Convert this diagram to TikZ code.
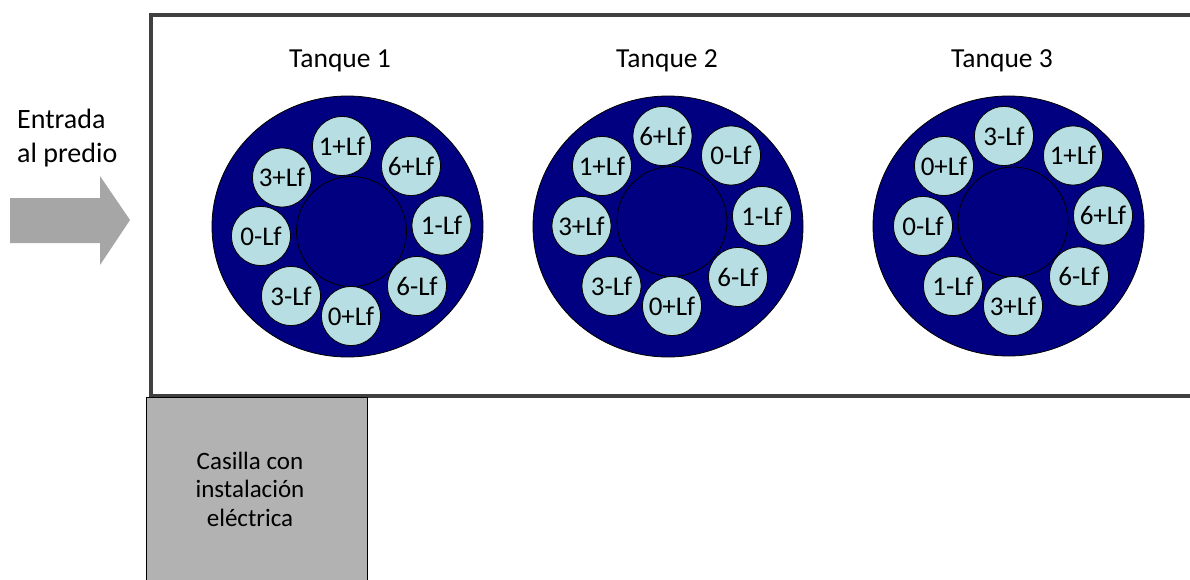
\documentclass[tikz,border=0pt]{standalone}
\usepackage{fontspec}
\setmainfont{Carlito}
\usetikzlibrary{shapes.geometric}
\definecolor{navyt}{RGB}{0,0,128}
\definecolor{cellblue}{RGB}{183,222,226}
\definecolor{framegray}{RGB}{64,64,64}
\definecolor{arrowgray}{RGB}{166,166,166}
\definecolor{boxgray}{RGB}{178,178,178}
\begin{document}
\begin{tikzpicture}[x=1pt,y=-1pt,
  tankouter/.style={ellipse,draw=black,line width=0.8pt,fill=navyt,inner sep=0pt},
  tankinner/.style={circle,draw=black,line width=0.8pt,fill=navyt,minimum size=110pt,inner sep=0pt},
  cellc/.style={circle,draw=black,line width=0.8pt,fill=cellblue,minimum size=59pt,inner sep=0pt,font=\fontsize{27}{32}\selectfont},
  tanklabel/.style={font=\fontsize{27.5}{33}\selectfont,inner sep=0pt},
]
\useasboundingbox (0,0) rectangle (1190,580);
\clip (0,0) rectangle (1190,580);

% site frame
\draw[framegray,line width=4pt] (151,15) rectangle (1210,396);

% entrance arrow
\fill[arrowgray] (10,198) -- (100,198) -- (100,176) -- (130,220) -- (100,265) -- (100,243) -- (10,243) -- cycle;
\node[anchor=west,align=left,inner sep=0pt,font=\fontsize{28}{34}\selectfont] (entrada) at (17,138) {Entrada\\al predio};

% electrical booth
\node[draw=black,line width=0.8pt,fill=boxgray,minimum width=221pt,minimum height=203pt,inner sep=0pt] (casilla) at (256.5,498.5) {};
\node[align=center,inner sep=0pt,font=\fontsize{25}{28.5}\selectfont] (casillatxt) at (250,489) {Casilla con\\instalación\\eléctrica};

% Tank 1
\node[tanklabel] (t1lab) at (340,61) {Tanque 1};
\node[tankouter,minimum width=271pt,minimum height=261pt] (t1) at (347.5,226.5) {};
\node[tankinner] (t1c) at (351.5,231.5) {};
\node[cellc] (t1a) at (342,146) {1+Lf};
\node[cellc] (t1b) at (411,166) {6+Lf};
\node[cellc] (t1d) at (441.5,225.5) {1-Lf};
\node[cellc] (t1e) at (417,286) {6-Lf};
\node[cellc] (t1f) at (351,316) {0+Lf};
\node[cellc] (t1g) at (291,296) {3-Lf};
\node[cellc] (t1h) at (261,236) {0-Lf};
\node[cellc] (t1i) at (282,177.5) {3+Lf};

% Tank 2
\node[tanklabel] (t2lab) at (667,61) {Tanque 2};
\node[tankouter,minimum width=270pt,minimum height=261pt] (t2) at (668,226.5) {};
\node[tankinner] (t2c) at (672,221.5) {};
\node[cellc] (t2a) at (662.5,136) {6+Lf};
\node[cellc] (t2b) at (731,155.5) {0-Lf};
\node[cellc] (t2d) at (762,216) {1-Lf};
\node[cellc] (t2e) at (738,277) {6-Lf};
\node[cellc] (t2f) at (672,306) {0+Lf};
\node[cellc] (t2g) at (611.5,286) {3-Lf};
\node[cellc] (t2h) at (581.5,226) {3+Lf};
\node[cellc] (t2i) at (602,166) {1+Lf};

% Tank 3
\node[tanklabel] (t3lab) at (1002,61) {Tanque 3};
\node[tankouter,minimum width=271pt,minimum height=260pt] (t3) at (1008.5,226) {};
\node[tankinner] (t3c) at (1013,222) {};
\node[cellc] (t3a) at (1004,136) {3-Lf};
\node[cellc] (t3b) at (1073,155.5) {1+Lf};
\node[cellc] (t3d) at (1103,215.5) {6+Lf};
\node[cellc] (t3e) at (1079,276.5) {6-Lf};
\node[cellc] (t3f) at (1013,306) {3+Lf};
\node[cellc] (t3g) at (953,286) {1-Lf};
\node[cellc] (t3h) at (923,226) {0-Lf};
\node[cellc] (t3i) at (944,166) {0+Lf};
\end{tikzpicture}
\end{document}
